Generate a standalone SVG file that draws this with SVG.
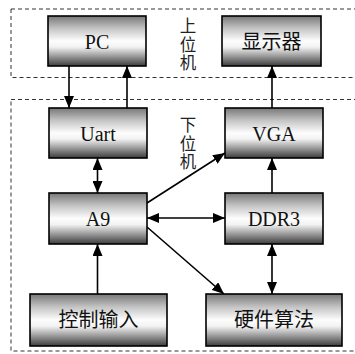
<svg xmlns="http://www.w3.org/2000/svg" width="355" height="354" viewBox="0 0 355 354">
<defs>
<linearGradient id="g" x1="0" y1="0" x2="0" y2="1">
<stop offset="0" stop-color="#777"/>
<stop offset="0.25" stop-color="#c4c4c4"/>
<stop offset="0.5" stop-color="#fdfdfd"/>
<stop offset="0.62" stop-color="#f2f2f2"/>
<stop offset="1" stop-color="#3c3c3c"/>
</linearGradient>
<marker id="ah" viewBox="0 0 12 10" refX="12" refY="5" markerWidth="12" markerHeight="10" markerUnits="userSpaceOnUse" orient="auto-start-reverse">
<path d="M0,0 L12,5 L0,10 z" fill="#000"/>
</marker>
</defs>
<style>
.zone{fill:none;stroke:#333;stroke-width:1;stroke-dasharray:4 3}
.box{fill:url(#g);stroke:#000;stroke-width:1.6}
.t{font-family:"Liberation Serif","Noto Sans CJK SC",serif;font-size:20px;fill:#111;text-anchor:middle}
.lbl{font-family:"Liberation Serif","Noto Sans CJK SC",serif;font-size:16.5px;fill:#222;text-anchor:middle}
.c{stroke:#000;stroke-width:1.6;fill:none;marker-end:url(#ah)}
.bi{marker-start:url(#ah)}
</style>
<g id="zones">
<rect class="zone" x="11" y="9" width="350" height="68.5"/>
<rect class="zone" x="11" y="99.5" width="350" height="251.5"/>
<text class="lbl" x="188" y="32">上</text>
<text class="lbl" x="188" y="50.5">位</text>
<text class="lbl" x="188" y="69">机</text>
<text class="lbl" x="188" y="131">下</text>
<text class="lbl" x="188" y="149.5">位</text>
<text class="lbl" x="188" y="168">机</text>
</g>
<g id="connectors">
<line class="c" x1="69" y1="66" x2="69" y2="108"/>
<line class="c" x1="127" y1="108" x2="127" y2="66"/>
<line class="c bi" x1="97.5" y1="158" x2="97.5" y2="193"/>
<line class="c" x1="272" y1="108" x2="272" y2="66"/>
<line class="c" x1="272" y1="193" x2="272" y2="158"/>
<line class="c bi" x1="272" y1="244" x2="272" y2="294"/>
<line class="c" x1="147" y1="203" x2="225" y2="153"/>
<line class="c bi" x1="147" y1="218" x2="225" y2="218"/>
<line class="c" x1="147" y1="227" x2="224" y2="294"/>
<line class="c" x1="97.5" y1="294" x2="97.5" y2="244"/>
</g>
<g id="pc"><rect class="box" x="48" y="16" width="98" height="50"/><text class="t" x="97" y="48.5">PC</text></g>
<g id="display"><rect class="box" x="222" y="16" width="99" height="50"/><text class="t" x="271.5" y="48.5">显示器</text></g>
<g id="uart"><rect class="box" x="49" y="108" width="98" height="50"/><text class="t" x="98" y="140.5">Uart</text></g>
<g id="vga"><rect class="box" x="225" y="108" width="98" height="50"/><text class="t" x="274" y="140.5">VGA</text></g>
<g id="a9"><rect class="box" x="49" y="193" width="98" height="51"/><text class="t" x="98" y="226">A9</text></g>
<g id="ddr3"><rect class="box" x="225" y="193" width="98" height="51"/><text class="t" x="274" y="226">DDR3</text></g>
<g id="ctrl"><rect class="box" x="30" y="294" width="137" height="52"/><text class="t" x="98.5" y="327">控制输入</text></g>
<g id="hw"><rect class="box" x="206" y="294" width="136" height="52"/><text class="t" x="274" y="327">硬件算法</text></g>
</svg>
